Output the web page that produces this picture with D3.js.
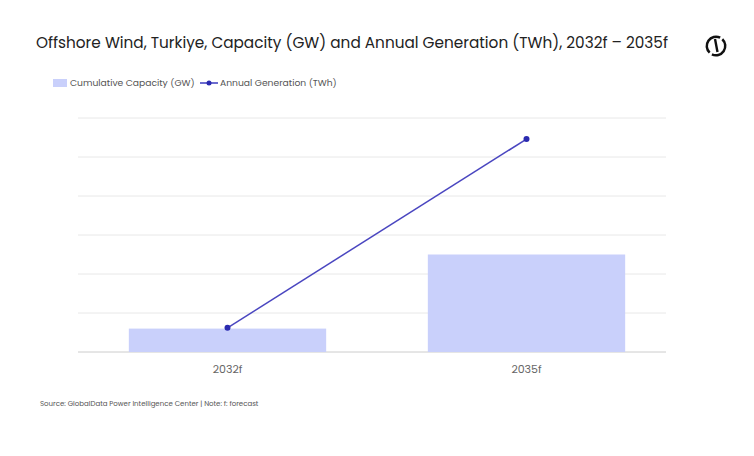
<!DOCTYPE html>
<html><head><meta charset="utf-8">
<script src="https://cdn.jsdelivr.net/npm/d3@7"></script>
<style>body{margin:0;background:#fff;font-family:Poppins,"Open Sans",sans-serif}</style>
</head><body><svg id="c" width="754" height="456"></svg>
<script>
const categories = ["2032f","2035f"];
const capacityGW = [0.6, 2.5];
const generationTWh = [3.1, 27.3];
const capTicks = [0,1,2,3,4,5,6];

const svg = d3.select("#c");
const x = d3.scaleBand().domain(categories).range([78,676]).paddingInner(0.34).paddingOuter(0.17);
const y = d3.scaleLinear().domain([0,6]).range([352,118]);
const y2 = d3.scaleLinear().domain([0,30]).range([352,118]);

svg.append("text").attr("x",36).attr("y",48).attr("font-size",15.5).attr("fill","#222")
  .attr("textLength",632).attr("lengthAdjust","spacingAndGlyphs")
  .text("Offshore Wind, Turkiye, Capacity (GW) and Annual Generation (TWh), 2032f – 2035f");

// logo
const lg = svg.append("g").attr("transform","translate(716,46)");
lg.append("path").attr("d",d3.arc()({innerRadius:8,outerRadius:10.5,startAngle:0.75,endAngle:3.6})).attr("fill","#111");
lg.append("path").attr("d",d3.arc()({innerRadius:8,outerRadius:10.5,startAngle:3.9,endAngle:6.75})).attr("fill","#111");
lg.append("line").attr("x1",-1).attr("y1",-7).attr("x2",1.5).attr("y2",6).attr("stroke","#111").attr("stroke-width",2.4);

// legend
svg.append("rect").attr("x",53).attr("y",79).attr("width",14).attr("height",8).attr("fill","#c9d0fb");
svg.append("text").attr("x",70).attr("y",86).attr("font-size",9.2).attr("fill","#555").text("Cumulative Capacity (GW)");
svg.append("line").attr("x1",200).attr("x2",218).attr("y1",83).attr("y2",83).attr("stroke","#3b3bbf").attr("stroke-width",1.5);
svg.append("circle").attr("cx",209).attr("cy",83).attr("r",2.5).attr("fill","#2b2bb0");
svg.append("text").attr("x",220).attr("y",86).attr("font-size",9.2).attr("fill","#555").text("Annual Generation (TWh)");

// grid
svg.append("g").selectAll("line").data(capTicks).join("line")
  .attr("x1",78).attr("x2",666).attr("y1",d=>y(d)).attr("y2",d=>y(d))
  .attr("stroke",d=>d===0?"#ccc":"#e8e8e8").attr("stroke-width",1);

svg.append("g").selectAll("rect").data(categories).join("rect")
  .attr("x",d=>x(d)).attr("width",x.bandwidth())
  .attr("y",(d,i)=>y(capacityGW[i])).attr("height",(d,i)=>y(0)-y(capacityGW[i]))
  .attr("fill","#c9d0fb");

const line = d3.line().x((d,i)=>x(categories[i])+x.bandwidth()/2).y(d=>y2(d));
svg.append("path").datum(generationTWh).attr("d",line).attr("fill","none").attr("stroke","#4a46c0").attr("stroke-width",1.5);
svg.append("g").selectAll("circle").data(generationTWh).join("circle")
  .attr("cx",(d,i)=>x(categories[i])+x.bandwidth()/2).attr("cy",d=>y2(d)).attr("r",3).attr("fill","#2b2bb0");

svg.append("g").selectAll("text").data(categories).join("text")
  .attr("x",d=>x(d)+x.bandwidth()/2).attr("y",373).attr("text-anchor","middle")
  .attr("font-size",11).attr("fill","#666").text(d=>d);

svg.append("text").attr("x",40).attr("y",406).attr("font-size",7).attr("fill","#555")
  .text("Source: GlobalData Power Intelligence Center | Note: f: forecast");
</script></body></html>
